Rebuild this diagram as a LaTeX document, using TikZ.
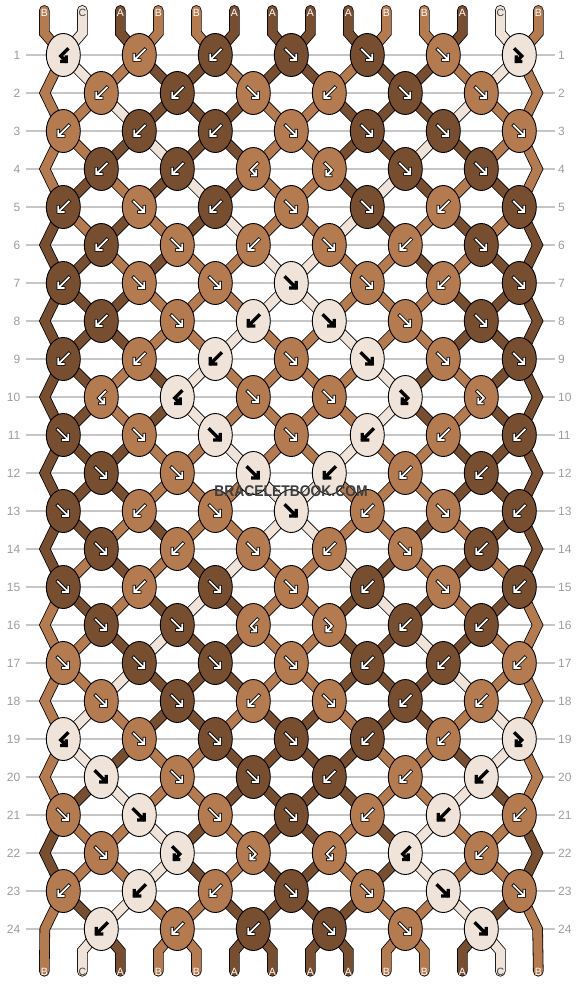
\documentclass[tikz,border=0pt]{standalone}
\usepackage{fontspec}
\setmainfont{Liberation Sans}
\usetikzlibrary{shapes.geometric}

\definecolor{colA}{HTML}{784E30}
\definecolor{colB}{HTML}{B47A50}
\definecolor{colC}{HTML}{F0E4DA}
\colorlet{lblA}{white}
\colorlet{lblB}{white}
\colorlet{lblC}{black!75}
\colorlet{arwA}{white}
\colorlet{arwB}{white}
\colorlet{arwC}{black}
\definecolor{rowline}{HTML}{C6C6C6}
\definecolor{rownum}{HTML}{9C9C9C}
\definecolor{wmark}{HTML}{3E3E3E}

% row, string position -> name of the knot (or edge point) holding that string
\newcommand\strandname[3]{%
  \ifodd#1\relax
    \pgfmathtruncatemacro\kk{ceil(#2/2)}\edef#3{c#1-\kk}%
  \else
    \ifnum#2=1 \edef#3{c#1-L}%
    \else\ifnum#2=14 \edef#3{c#1-R}%
    \else\pgfmathtruncatemacro\kk{floor(#2/2)}\edef#3{c#1-\kk}%
    \fi\fi
  \fi}

\tikzset{
  knot/.style={ellipse, draw=black, line width=0.9pt, minimum width=34pt,
    minimum height=43pt, inner sep=0pt},
  strand/.style={draw=black, line width=0.8pt, double=#1, double distance=9pt,
    line cap=round},
  rowno/.style={text=rownum, font=\fontsize{12}{12}\selectfont, inner sep=0pt},
  endlbl/.style={font=\fontsize{10.5}{10.5}\selectfont, inner sep=0pt},
  wmtext/.style={font=\bfseries\fontsize{15.5}{15.5}\selectfont, inner sep=0pt},
  arwback/.style={draw=black, line width=3.3pt, line cap=rect},
  arwtip/.style={draw=#1, line width=1.7pt, line cap=rect},
  % knot symbols
  arwf/.pic={
    \draw[arwback] (-5.5,-5.5) -- (4.5,4.5) (-0.5,5) -- (5,5) -- (5,-0.5);
    \draw[arwtip=#1] (-5.5,-5.5) -- (4.5,4.5) (-0.5,5) -- (5,5) -- (5,-0.5);
  },
  arwb/.pic={
    \draw[arwback] (5.5,-5.5) -- (-4.5,4.5) (0.5,5) -- (-5,5) -- (-5,-0.5);
    \draw[arwtip=#1] (5.5,-5.5) -- (-4.5,4.5) (0.5,5) -- (-5,5) -- (-5,-0.5);
  },
  arwfb/.pic={
    \draw[arwback] (-4,-5.5) -- (2.5,1) -- (-2.6,6.1) (1.5,6.5) -- (-3,6.5) -- (-3,2);
    \draw[arwtip=#1] (-4,-5.5) -- (2.5,1) -- (-2.6,6.1) (1.5,6.5) -- (-3,6.5) -- (-3,2);
  },
  arwbf/.pic={
    \draw[arwback] (4,-5.5) -- (-2.5,1) -- (2.6,6.1) (-1.5,6.5) -- (3,6.5) -- (3,2);
    \draw[arwtip=#1] (4,-5.5) -- (-2.5,1) -- (2.6,6.1) (-1.5,6.5) -- (3,6.5) -- (3,2);
  }
}

\begin{document}
\begin{tikzpicture}[x=1pt, y=-1pt]
  \useasboundingbox (0,0) rectangle (582,984);

  % Row lines and numbers
  \foreach \r in {1,...,24} {
    \draw[rowline, line width=1.1pt] (26,17+38*\r) -- (555,17+38*\r);
    \node[rowno, anchor=east] (ln\r) at (20.5,17+38*\r) {\r};
    \node[rowno, anchor=west] (rn\r) at (558,17+38*\r) {\r};
  }

  % Knot centres, edge points, string ends
  \foreach \r in {1,3,...,23}
    \foreach \k in {1,...,7}
      \coordinate (c\r-\k) at (-12.7+76*\k, 17+38*\r);
  \foreach \r in {2,4,...,24} {
    \foreach \k in {1,...,6}
      \coordinate (c\r-\k) at (25.3+76*\k, 17+38*\r);
    \coordinate (c\r-L) at (44.8, 17+38*\r);
    \coordinate (c\r-R) at (537.6, 17+38*\r);
  }
  \foreach \p in {1,...,14} {
    \coordinate (t\p) at (6.3+38*\p, 10.4);
    \coordinate (tb\p) at (6.3+38*\p, 33);
    \coordinate (bb\p) at (6.3+38*\p, 951);
    \coordinate (be\p) at (6.3+38*\p, 971.3);
  }

  % Strings, one list of colours per gap between rows
  \foreach \st [count=\r from 0] in {
      {B,C,A,B,B,A,A,A,A,B,B,A,C,B},{B,C,B,A,A,B,A,A,B,A,A,B,C,B},
      {B,B,C,A,A,A,B,B,A,A,A,C,B,B},{B,B,A,C,A,A,B,B,A,A,C,A,B,B},
      {B,A,B,A,C,A,B,B,A,C,A,B,A,B},{A,B,A,B,A,C,B,B,C,A,B,A,B,A},
      {A,A,B,A,B,B,C,C,B,B,A,B,A,A},{A,A,A,B,B,B,C,C,B,B,B,A,A,A},
      {A,A,A,B,B,C,B,B,C,B,B,A,A,A},{A,A,B,A,C,B,B,B,B,C,A,B,A,A},
      {A,A,B,A,C,B,B,B,B,C,A,B,A,A},{A,A,A,B,B,C,B,B,C,B,B,A,A,A},
      {A,A,A,B,B,B,C,C,B,B,B,A,A,A},{A,A,B,A,B,B,C,C,B,B,A,B,A,A},
      {A,B,A,B,A,C,B,B,C,A,B,A,B,A},{B,A,B,A,C,A,B,B,A,C,A,B,A,B},
      {B,B,A,C,A,A,B,B,A,A,C,A,B,B},{B,B,C,A,A,A,B,B,A,A,A,C,B,B},
      {B,C,B,A,A,B,A,A,B,A,A,B,C,B},{B,C,A,B,B,A,A,A,A,B,B,A,C,B},
      {B,A,C,B,B,A,A,A,A,B,B,C,A,B},{A,B,B,C,A,B,A,A,B,A,C,B,B,A},
      {A,B,B,C,A,B,A,A,B,A,C,B,B,A},{B,A,C,B,B,A,A,A,A,B,B,C,A,B},
      {B,C,A,B,B,A,A,A,A,B,B,A,C,B}} {
    \foreach \c [count=\p] in \st {
      \pgfmathtruncatemacro\rn{\r+1}
      \pgfmathtruncatemacro\rnn{\r+2}
      \pgfmathtruncatemacro\isedge{\p==1 || \p==14}
      \ifnum\r=0
        \strandname{1}{\p}{\midn}
        \draw[strand=col\c] (t\p) -- (tb\p) -- (\midn);
      \else\ifnum\isedge=1
        \ifodd\r\relax
          \strandname{\r}{\p}{\fromn}\strandname{\rn}{\p}{\midn}
          \ifnum\r=23
            \draw[strand=col\c] (\fromn) -- (\midn) -- (be\p);
          \else
            \strandname{\rnn}{\p}{\ton}
            \draw[strand=col\c] (\fromn) -- (\midn) -- (\ton);
          \fi
        \fi
      \else\ifnum\r=24
        \strandname{24}{\p}{\fromn}
        \draw[strand=col\c] (\fromn) -- (bb\p) -- (be\p);
      \else
        \strandname{\r}{\p}{\fromn}\strandname{\rn}{\p}{\midn}
        \draw[strand=col\c] (\fromn) -- (\midn);
      \fi\fi\fi
    }
  }

  % Knots: colour/knot type
  \foreach \kn [count=\r] in {
      {C/bf,B/b,A/b,A/f,A/f,B/f,C/fb}, {B/b,A/b,B/f,B/b,A/f,B/f},
      {B/b,A/b,A/b,B/f,A/f,A/f,B/f},   {A/b,A/b,B/bf,B/fb,A/f,A/f},
      {A/b,B/f,A/b,B/f,A/f,B/b,A/f},   {A/b,B/f,B/b,B/f,B/b,A/f},
      {A/b,B/f,B/f,C/f,B/f,B/b,A/f},   {A/b,B/f,C/b,C/f,B/f,A/f},
      {A/b,B/b,C/b,B/f,C/f,B/f,A/f},   {B/bf,C/bf,B/f,B/f,C/fb,B/fb},
      {A/f,B/f,C/f,B/f,C/b,B/b,A/b},   {A/f,B/f,C/f,C/b,B/b,A/b},
      {A/f,B/b,B/f,C/f,B/b,B/f,A/b},   {A/f,B/b,B/f,B/b,B/f,A/b},
      {A/f,B/b,A/f,B/f,A/b,B/f,A/b},   {A/f,A/f,B/bf,B/fb,A/b,A/b},
      {B/f,A/f,A/f,B/f,A/b,A/b,B/b},   {B/f,A/f,B/b,B/f,A/b,B/b},
      {C/bf,B/f,A/f,A/f,A/b,B/b,C/fb}, {C/f,B/f,A/f,A/b,B/b,C/b},
      {B/f,C/f,B/f,A/f,B/b,C/b,B/b},   {B/f,C/fb,B/fb,B/bf,C/bf,B/b},
      {B/b,C/b,B/b,A/f,B/f,C/f,B/f},   {C/b,B/b,A/b,A/f,B/f,C/f}} {
    \foreach \kc/\kt [count=\k] in \kn {
      \node[knot, fill=col\kc] (k\r-\k) at (c\r-\k) {};
      \pic at (c\r-\k) {arw\kt=arw\kc};
    }
  }

  % String names at both ends
  \foreach \c [count=\p] in {B,C,A,B,B,A,A,A,A,B,B,A,C,B} {
    \node[endlbl, text=lbl\c] (tl\p) at (6.3+38*\p, 12.7) {\c};
    \node[endlbl, text=lbl\c] (bl\p) at (6.3+38*\p, 972) {\c};
  }

  % Watermark
  \node[wmtext, text=wmark] (wm) at (291,491) {\scalebox{0.895}[1]{BRACELETBOOK.COM}};
\end{tikzpicture}
\end{document}
